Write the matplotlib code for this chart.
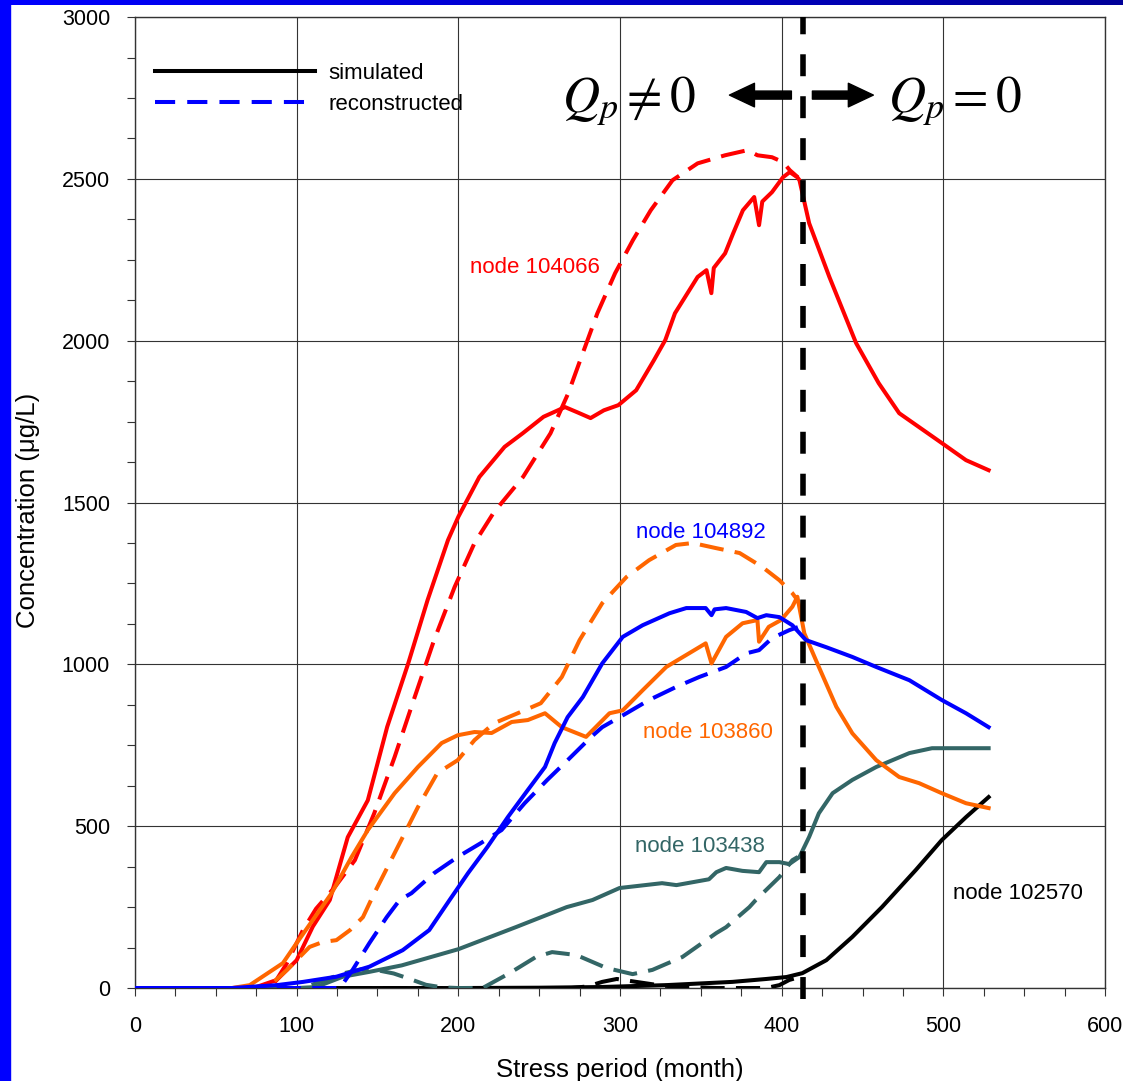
import numpy as np
import matplotlib
matplotlib.use("Agg")
import matplotlib.pyplot as plt
from matplotlib.lines import Line2D
from matplotlib.patches import Rectangle
from matplotlib.colors import LinearSegmentedColormap

plt.rcParams['font.family'] = ['Liberation Sans', 'DejaVu Sans']
plt.rcParams['mathtext.fontset'] = 'stix'

# node 104066 (red)
red_sim_x = [0, 60, 75, 87.7, 100, 110, 120.5, 131.6, 144, 156, 169, 181, 193.6, 200, 213, 228.6, 239.8,
             252.7, 266, 274, 281.8, 290, 299, 310, 321, 328, 334, 348, 353.5, 356.5, 358, 365, 370, 376,
             383, 386, 388, 394, 400.8, 405, 409.7, 411, 417, 429.5, 446, 460, 472.7, 485, 499, 514, 528]
red_sim_y = [0, 0, 3, 25, 86, 190, 272, 466, 580, 807, 1003, 1199, 1384, 1456, 1579, 1672, 1714,
             1765, 1795, 1778, 1761, 1785, 1801, 1847, 1940, 2002, 2085, 2197, 2218, 2147, 2225, 2270, 2332, 2403,
             2444, 2357, 2430, 2459, 2505, 2521, 2505, 2496, 2363, 2197, 1993, 1869, 1776, 1733, 1684, 1631, 1600]
red_rec_x = [0, 80, 85, 94, 104, 112, 123.6, 136, 148, 160.6, 173, 185, 197.7, 210, 222, 240, 257, 268,
             277, 286, 297, 308, 319, 332.5, 348, 365, 379, 385, 394, 400.8, 405, 410]
red_rec_y = [0, 0, 5, 77, 180, 245, 312, 395, 540, 714, 899, 1075, 1239, 1375, 1470, 1579, 1714, 1838,
             1962, 2085, 2209, 2311, 2403, 2496, 2548, 2573, 2589, 2573, 2567, 2552, 2527, 2505]

# node 103860 (orange)
org_sim_x = [0, 60, 71, 91.5, 100, 121.6, 134, 144, 160.6, 175, 189.7, 199.6, 210, 220.6, 233, 243, 253.6,
             264, 279, 293.5, 301.7, 314, 328.6, 353, 356.6, 365.6, 375.8, 385, 386, 392, 399.6, 406.6, 409.7,
             414, 423, 433.8, 443.7, 458.5, 472.7, 485, 499, 514, 528]
org_sim_y = [0, 0, 9, 77, 139, 293, 405, 488, 602, 683, 757, 781, 791, 788, 822, 828, 849,
             806, 776, 849, 858, 920, 992, 1065, 1003, 1085, 1127, 1137, 1070, 1116, 1137, 1178, 1209,
             1096, 992, 869, 787, 704, 652, 633, 602, 571, 556]
org_rec_x = [0, 80, 85, 94, 108, 116, 124.6, 133, 141, 148, 160.6, 175, 187, 199.6, 210, 222, 236.7, 251,
             264, 275, 289, 304, 318, 334.6, 345, 359.6, 374, 388, 398.6, 406.6, 409.7]
org_rec_y = [0, 0, 15, 56, 127, 142, 148, 179, 219, 293, 417, 559, 664, 704, 766, 818, 849, 880,
             961, 1075, 1189, 1270, 1322, 1369, 1375, 1359, 1344, 1301, 1260, 1220, 1199]

# node 104892 (blue)
blu_sim_x = [0, 60, 87.7, 104, 124.6, 145, 165.6, 182, 194.6, 206, 218, 230.6, 243, 253.6, 259.6, 267.6, 277,
             289, 301.7, 314, 330.6, 341, 353, 356.6, 358.5, 365.6, 378, 385, 390.5, 398.6, 406.6, 415, 427.6,
             443.7, 458.5, 479, 499, 514, 528]
blu_sim_y = [0, 0, 9, 19, 35, 66, 117, 179, 272, 355, 436, 528, 612, 683, 757, 837, 899,
             1003, 1085, 1121, 1158, 1174, 1174, 1152, 1170, 1174, 1162, 1143, 1152, 1146, 1121, 1075, 1053,
             1023, 992, 951, 890, 849, 806]
blu_rec_x = [0, 126.7, 134.6, 145, 155.7, 163.7, 171, 185, 199.6, 214, 226.7, 241, 255, 267.6, 282, 289, 304,
             318, 334.6, 349, 365.6, 378, 386, 394, 404.8, 410]
blu_rec_y = [0, 0, 56, 139, 219, 272, 293, 355, 405, 448, 488, 571, 643, 704, 775, 806, 849,
             890, 930, 961, 992, 1034, 1044, 1081, 1106, 1115]

# node 103438 (teal)
tea_sim_x = [0, 100, 112, 128.6, 145, 165, 186, 200, 236, 267, 283, 299.7, 326, 334.9, 355, 359.6, 365.6,
             375.7, 386, 390.5, 398.6, 404.7, 411, 417, 423, 431.5, 443.7, 458.5, 479, 493, 510, 528]
tea_sim_y = [0, 0, 3, 35, 50, 70, 100, 120, 189, 250, 272, 309, 324, 318, 336, 358, 371,
             362, 358, 389, 389, 383, 405, 467, 540, 602, 643, 683, 726, 741, 741, 741]
tea_rec_x = [0, 104, 128.6, 140, 150, 160, 170, 180, 190, 200, 215, 231.7, 248, 258, 273, 291.6, 307.8, 320,
             338.6, 359.6, 365.6, 380, 384, 398.6, 406.6, 410]
tea_rec_y = [0, 0, 45, 58, 55, 45, 28, 10, 2, 0, 0, 46, 96, 111, 102, 62, 43, 56,
             96, 170, 188, 250, 272, 343, 395, 405]

# node 102570 (black)
blk_sim_x = [0, 150, 200, 250, 287, 328.6, 369.5, 390.5, 403, 412.8, 427.6, 443.7, 462, 483, 499, 514, 528]
blk_sim_y = [0, 0, 0, 1, 3, 9, 19, 28, 34, 46, 86, 158, 250, 365, 457, 528, 590]
blk_rec_x = [0, 270, 280, 289, 298, 310, 325, 339, 360, 390.5, 398.6, 404.7, 411]
blk_rec_y = [0, 0, 5, 19, 28, 19, 8, 3, 0, 0, 9, 25, 34]

pump_stop = 413

c_red = '#FF0000'
c_org = '#FF6600'
c_blu = '#0000FF'
c_tea = '#336666'
c_blk = '#000000'

fig = plt.figure(figsize=(11.23, 10.81), dpi=100)
ax = fig.add_axes([0.1202, 0.0860, 0.8638, 0.8982])

# blue frame strips of the slide
fig.patches.append(Rectangle((0, 0), 10 / 1123, 1, transform=fig.transFigure, color='#0000FF', zorder=10))
band = fig.add_axes([0, 1 - 5 / 1081, 1, 5 / 1081])
band.imshow(np.linspace(0, 1, 256).reshape(1, -1), aspect='auto',
            cmap=LinearSegmentedColormap.from_list('band', ['#0000FF', '#0000CC', '#000099']))
band.axis('off')

lw = 2.9
dash = (6, 2.8)
style = dict(lw=lw, zorder=3, solid_joinstyle='round', dash_joinstyle='round')
ax.plot(blk_sim_x, blk_sim_y, color=c_blk, **style)
ax.plot(blk_rec_x, blk_rec_y, color=c_blk, dashes=dash, **style)
ax.plot(tea_sim_x, tea_sim_y, color=c_tea, **style)
ax.plot(tea_rec_x, tea_rec_y, color=c_tea, dashes=dash, **style)
ax.plot(red_sim_x, red_sim_y, color=c_red, **style)
ax.plot(red_rec_x, red_rec_y, color=c_red, dashes=dash, **style)
ax.plot(org_sim_x, org_sim_y, color=c_org, **style)
ax.plot(org_rec_x, org_rec_y, color=c_org, dashes=dash, **style)
ax.plot(blu_sim_x, blu_sim_y, color=c_blu, **style)
ax.plot(blu_rec_x, blu_rec_y, color=c_blu, dashes=dash, **style)

# pumping stops here
ax.plot([pump_stop, pump_stop], [-35, 3000], color='black', lw=4, dashes=(3.95, 3.6),
        clip_on=False, zorder=5)

ax.set_xlim(0, 600)
ax.set_ylim(0, 3000)
ax.set_xticks(np.arange(0, 601, 100))
ax.set_xticks(np.arange(0, 601, 25), minor=True)
ax.set_yticks(np.arange(0, 3001, 500))
ax.set_yticks(np.arange(0, 3001, 125), minor=True)
ax.tick_params(which='both', direction='out', length=6, width=0.8, color='#333333')
ax.tick_params(axis='x', which='major', labelsize=15.5, pad=14)
ax.tick_params(axis='y', which='major', labelsize=15.5, pad=12)
ax.grid(which='major', color='#333333', lw=0.8)
ax.set_axisbelow(True)
for s in ax.spines.values():
    s.set_color('#333333')
    s.set_linewidth(1)

ax.set_xlabel('Stress period (month)', fontsize=18.5)
ax.xaxis.set_label_coords(0.5, -0.072)
ax.set_ylabel('Concentration (\u03bcg/L)', fontsize=18.5)
ax.yaxis.set_label_coords(-0.098, 0.492)

# node labels
ax.text(207, 2227, 'node 104066', color=c_red, fontsize=16, ha='left', va='center')
ax.text(309.6, 1409, 'node 104892', color=c_blu, fontsize=16, ha='left', va='center')
ax.text(314, 791, 'node 103860', color=c_org, fontsize=16, ha='left', va='center')
ax.text(309, 436, 'node 103438', color=c_tea, fontsize=16, ha='left', va='center')
ax.text(506, 293, 'node 102570', color=c_blk, fontsize=16, ha='left', va='center')

# Q_p annotations and arrows
ax.text(305.3, 2740, r'$Q_p \neq 0$', fontsize=37, ha='center', va='center')
ax.text(507.3, 2740, r'$Q_p = 0$', fontsize=37, ha='center', va='center')
arrow = dict(arrowstyle='simple,head_width=1.7,head_length=1.8,tail_width=0.58',
             color='black', mutation_scale=10, shrinkA=0, shrinkB=0)
ax.annotate('', xy=(367.7, 2759), xytext=(406, 2759), arrowprops=arrow)
ax.annotate('', xy=(456.7, 2759), xytext=(419, 2759), arrowprops=arrow)

handles = [Line2D([], [], color='black', lw=lw),
           Line2D([], [], color=c_blu, lw=lw, dashes=(5, 3))]
ax.legend(handles, ['simulated', 'reconstructed'], loc='upper left', bbox_to_anchor=(0.0206, 0.953),
          frameon=False, fontsize=16, handlelength=7.2, handletextpad=0.6, labelspacing=0.45,
          borderpad=0, borderaxespad=0)

fig.savefig('out.png', dpi=100)
